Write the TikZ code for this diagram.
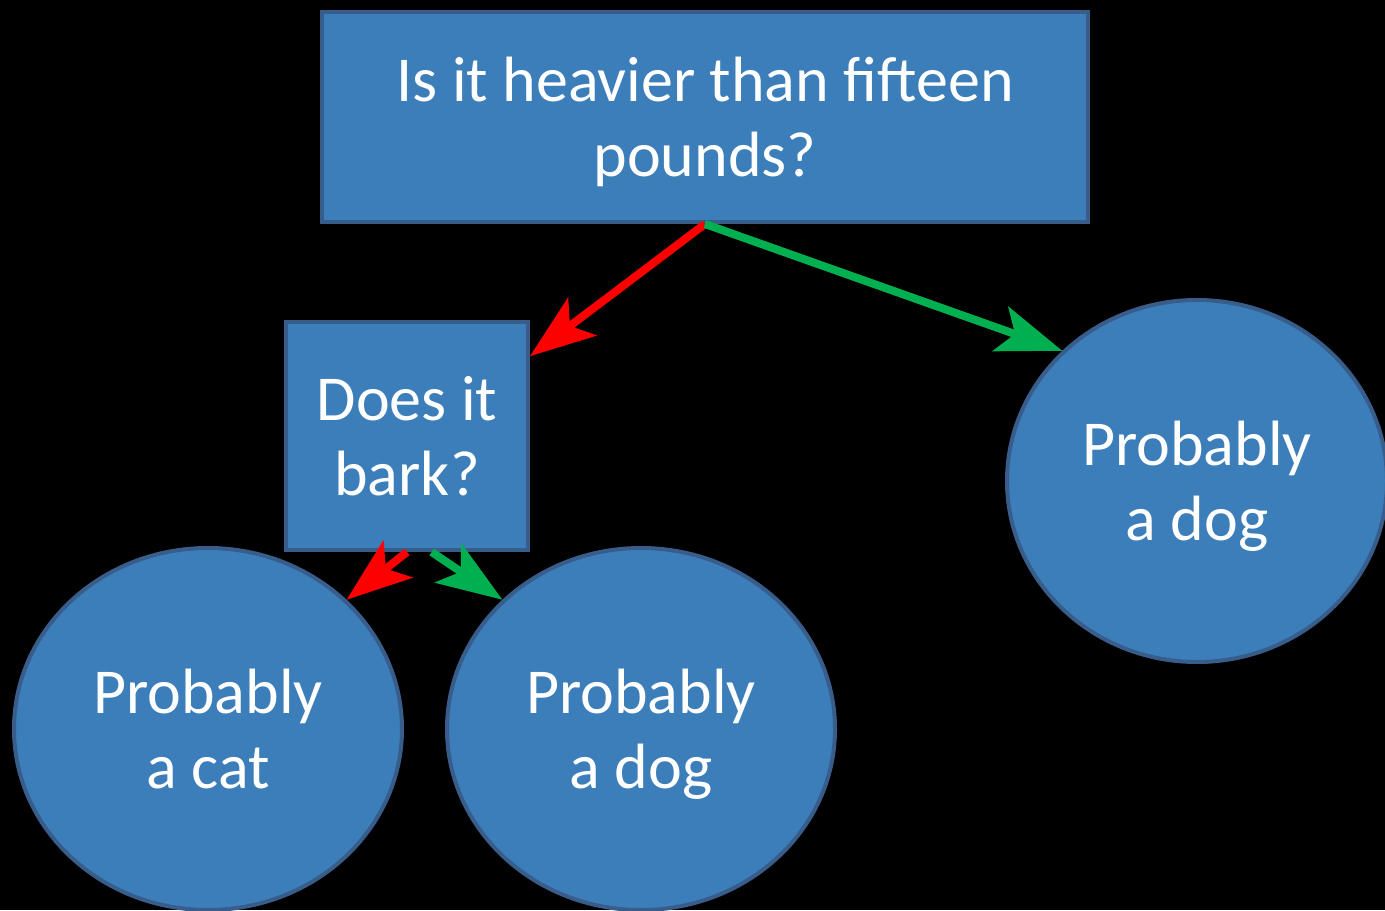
\documentclass[tikz,border=0pt]{standalone}
\usepackage{fontspec}
\setmainfont{Carlito}
\usepackage{tikz}
\usetikzlibrary{shapes.geometric}
\usetikzlibrary{arrows.meta}
\definecolor{boxfill}{HTML}{3C7EBA}
\definecolor{boxline}{HTML}{385D8A}
\definecolor{nored}{HTML}{FF0000}
\definecolor{yesgreen}{HTML}{00B050}
\tikzstyle{question}=[draw=boxline, fill=boxfill, line width=2pt, text=white, align=center,
                      inner sep=0, text depth=0pt, font=\fontsize{32}{37.5}\selectfont]
\tikzstyle{answer}=[question, ellipse, minimum width=194pt, minimum height=181pt]
\tikzstyle{branch}=[line width=4pt, -{Stealth[length=33pt, width=24pt, inset=8pt, line width=0pt]}]
\tikzstyle{treeplot}=[x=0.5pt, y=-0.5pt,
                      % Black page, same size as the slide.
                      execute at begin picture={\fill[black] (0,0) rectangle (1385,910);}]

\begin{document}
\begin{tikzpicture}[treeplot]
    \useasboundingbox (0,0) rectangle (1385,910);
    \node[question, minimum width=383pt, minimum height=105pt] (heavy) at (705,117) {Is it heavier than fifteen\\pounds?};
    \node[question, minimum width=121pt, minimum height=114pt] (bark) at (407,436) {Does it\\bark?};
    \node[answer, minimum width=190pt] (dogR) at (1197,481) {Probably\\a dog};
    \node[answer] (cat) at (208,729) {Probably\\a cat};
    \node[answer] (dogM) at (641,729) {Probably\\a dog};
    \draw[branch, nored] (heavy.south) -- (bark.33);
    \draw[branch, yesgreen] (heavy.south) -- (dogR.136);
    \draw[branch, nored] (bark.south) -- (cat.43);
    \draw[branch, yesgreen] (bark.-78) -- (dogM.137);
\end{tikzpicture}
\end{document}
